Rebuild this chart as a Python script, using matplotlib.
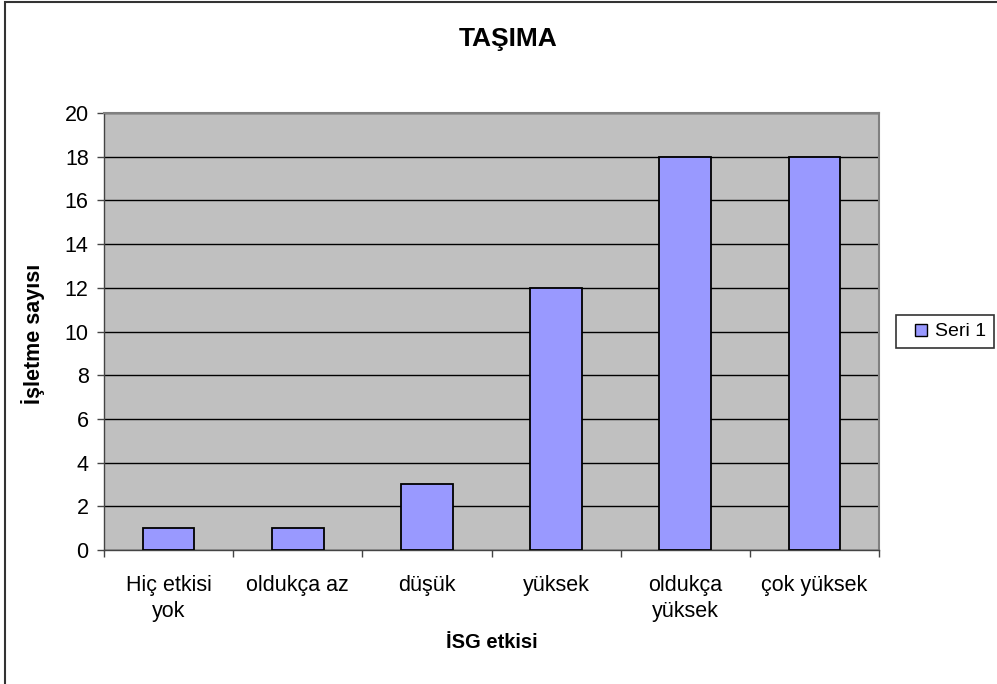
import matplotlib.pyplot as plt
from matplotlib.patches import Rectangle
from matplotlib.lines import Line2D
import numpy as np

plt.rcParams['font.family'] = ['Liberation Sans', 'DejaVu Sans']

categories = ['Hiç etkisi\nyok', 'oldukça az', 'düşük', 'yüksek', 'oldukça\nyüksek', 'çok yüksek']
seri_1 = [1, 1, 3, 12, 18, 18]
y_ticks = [0, 2, 4, 6, 8, 10, 12, 14, 16, 18, 20]

BAR_COLOR = '#9999FF'
W, H = 997, 684
fig = plt.figure(figsize=(W / 100, H / 100), dpi=100)
fig.patch.set_facecolor('white')

# chart area border (runs off right and bottom edges like the source)
fig.patches.append(Rectangle((5 / W, -0.1), 1.2, 1.1 - 1.5 / H, transform=fig.transFigure,
                             fill=False, edgecolor='#333333', linewidth=1.5))

ax = fig.add_axes([104 / W, 1 - 550 / H, (879 - 104) / W, (550 - 113) / H])
ax.set_facecolor('#C0C0C0')

x = np.arange(len(categories))
ax.bar(x, seri_1, width=0.4, color=BAR_COLOR, edgecolor='black', linewidth=1.3, zorder=3)

ax.set_xlim(-0.5, len(categories) - 0.5)
ax.set_ylim(0, 20)
ax.set_yticks(y_ticks)
ax.yaxis.grid(True, color='black', linewidth=1, zorder=1)
ax.set_axisbelow(True)

# ticks between categories, labels centred under bars
ax.set_xticks(np.arange(len(categories) + 1) - 0.5)
ax.set_xticklabels([])
ax.set_xticks(x, minor=True)
ax.set_xticklabels(categories, minor=True, fontsize=15.5, linespacing=1.32)
ax.tick_params(axis='x', which='minor', length=0, pad=18)
ax.tick_params(axis='x', which='major', length=5, width=1, color='#444444', direction='out')
ax.tick_params(axis='y', length=5, width=1, color='#444444', direction='out', labelsize=15.5, pad=6)

for side in ['top', 'right']:
    ax.spines[side].set_color('#808080')
    ax.spines[side].set_linewidth(1.5)
for side in ['left', 'bottom']:
    ax.spines[side].set_color('#444444')
    ax.spines[side].set_linewidth(1)

fig.text(508 / W, 1 - 46 / H, 'TAŞIMA', ha='center', va='baseline', fontsize=19, fontweight='bold')
fig.text(492 / W, 1 - 648 / H, 'İSG etkisi', ha='center', va='baseline', fontsize=14.5, fontweight='bold')
fig.text(33 / W, 1 - 334 / H, 'İşletme sayısı', ha='center', va='center', rotation=90,
         fontsize=15.5, fontweight='bold')

handle = Line2D([], [], linestyle='none', marker='s', markersize=8,
                markerfacecolor=BAR_COLOR, markeredgecolor='black', markeredgewidth=1)
leg = fig.legend(handles=[handle], labels=['Seri 1'], loc='center left',
                 bbox_to_anchor=(896 / W, 1 - 331.5 / H), frameon=True, fancybox=False,
                 fontsize=14, handlelength=1.8, handletextpad=-0.2,
                 borderpad=0.4, borderaxespad=0)
leg.get_frame().set_edgecolor('black')
leg.get_frame().set_linewidth(1.2)

fig.savefig('out.png', dpi=100)
